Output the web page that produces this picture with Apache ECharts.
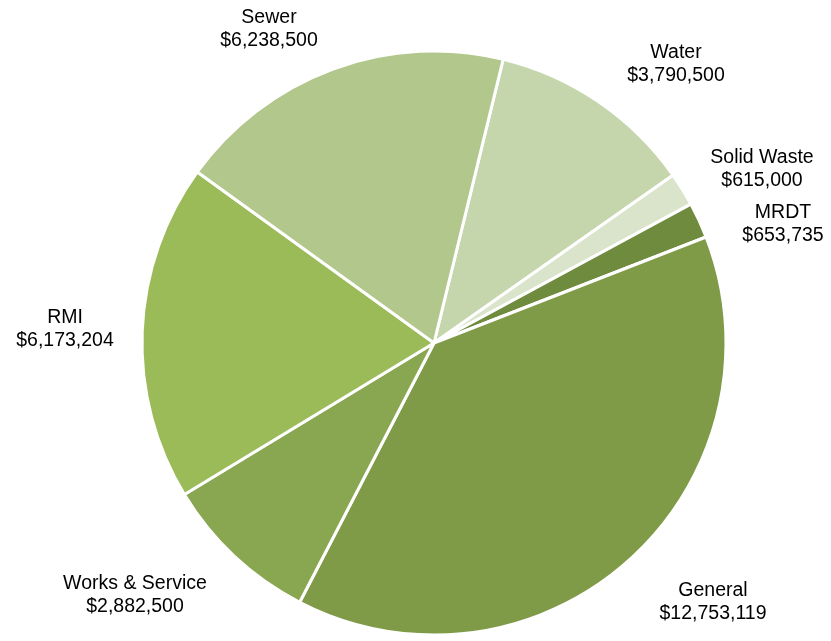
<!DOCTYPE html>
<html>
<head>
<meta charset="utf-8">
<script src="https://cdn.jsdelivr.net/npm/echarts@6/dist/echarts.min.js"></script>
<style>html,body{margin:0;padding:0;background:#fff;}#c{width:831px;height:641px;}</style>
</head>
<body>
<div id="c"></div>
<script>
const categories = ['Water', 'Solid Waste', 'MRDT', 'General', 'Works & Service', 'RMI', 'Sewer'];
const values = [3790500, 615000, 653735, 12753119, 2882500, 6173204, 6238500];
const colors = ['#c6d6ac', '#dae4ca', '#6f8b3d', '#7f9b48', '#89a650', '#9bbb59', '#b2c78b'];
const labelPos = [[676, 64], [762, 169], [783, 224], [713, 602], [135, 595], [65, 329], [269, 29]];

const fmt = v => '$' + v.toLocaleString('en-US');
const chart = echarts.init(document.getElementById('c'));
chart.setOption({
  animation: false,
  series: [{
    type: 'pie',
    center: [434, 343],
    radius: 292,
    startAngle: 76.3,
    clockwise: true,
    data: categories.map((n, i) => ({ name: n, value: values[i], itemStyle: { color: colors[i] } })),
    itemStyle: { borderColor: '#ffffff', borderWidth: 3 },
    label: {
      show: true,
      position: 'outside',
      formatter: p => p.name + '\n' + fmt(p.value),
      color: '#000',
      fontFamily: 'Liberation Sans, Arial, sans-serif',
      fontSize: 19.5,
      lineHeight: 23,
      align: 'center',
      overflow: 'none',
      width: 200
    },
    labelLine: { show: false },
    labelLayout: p => ({
      x: labelPos[p.dataIndex][0],
      y: labelPos[p.dataIndex][1],
      align: 'center',
      verticalAlign: 'middle'
    }),
    emphasis: { disabled: true }
  }]
});
</script>
</body>
</html>
